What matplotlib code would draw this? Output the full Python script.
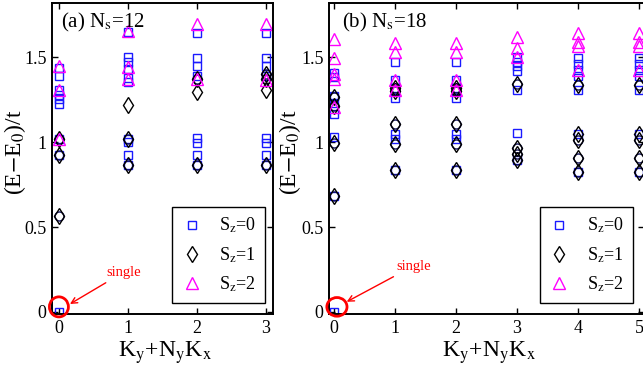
import matplotlib
matplotlib.use("Agg")
import matplotlib.pyplot as plt
from matplotlib.patches import Ellipse

plt.rcParams['font.family'] = ['Liberation Serif', 'DejaVu Serif']
plt.rcParams['mathtext.fontset'] = 'stix'

# ---- data: energies (E-E0)/t for each momentum index k ----
# panel (a), Ns=12, k = 0..3
sz0_a = [[0.0, 0.924, 1.02, 1.225, 1.253, 1.28, 1.305, 1.39, 1.44],
         [0.865, 0.924, 1.0, 1.02, 1.355, 1.38, 1.43, 1.47, 1.50, 1.65],
         [0.865, 0.924, 0.996, 1.022, 1.388, 1.447, 1.498, 1.643],
         [0.865, 0.924, 0.996, 1.022, 1.39, 1.447, 1.498, 1.643]]
sz1_a = [[0.567, 0.924, 1.02],
         [0.865, 1.016, 1.222],
         [0.865, 1.296, 1.37],
         [0.865, 1.31, 1.375, 1.40]]
sz2_a = [[1.02, 1.31, 1.449],
         [1.37, 1.443, 1.653],
         [1.371, 1.694],
         [1.365, 1.694]]
circ_a = [[0.567, 0.924, 1.02],
          [0.865, 1.016],
          [0.865, 1.37],
          [0.865, 1.375, 1.40]]

# panel (b), Ns=18, k = 0..5
sz0_b = [[0.0, 0.682, 1.031, 1.169, 1.228, 1.27, 1.385, 1.41],
         [0.839, 1.02, 1.047, 1.263, 1.322, 1.365, 1.473],
         [0.839, 1.02, 1.047, 1.263, 1.322, 1.365, 1.473],
         [0.898, 1.055, 1.306, 1.42, 1.447, 1.473, 1.50],
         [0.825, 1.051, 1.306, 1.388, 1.424, 1.463, 1.498],
         [0.825, 1.051, 1.306, 1.388, 1.424, 1.463, 1.498]]
sz1_b = [[0.682, 0.996, 1.212, 1.267],
         [0.839, 0.988, 1.106, 1.30, 1.322],
         [0.839, 0.988, 1.106, 1.30, 1.322],
         [0.898, 0.929, 0.963, 1.345],
         [0.825, 0.904, 1.012, 1.051, 1.335],
         [0.825, 0.904, 1.012, 1.051, 1.335]]
sz2_b = [[1.21, 1.37, 1.40, 1.498, 1.61],
         [1.306, 1.369, 1.531, 1.584],
         [1.306, 1.369, 1.531, 1.584],
         [1.502, 1.557, 1.62],
         [1.424, 1.565, 1.59, 1.643],
         [1.424, 1.565, 1.59, 1.643]]
circ_b = [[0.682, 0.996, 1.212, 1.267],
          [0.839, 0.988, 1.106, 1.30, 1.322],
          [0.839, 0.988, 1.106, 1.30, 1.322],
          [0.898, 0.929, 0.963, 1.345],
          [0.825, 0.904, 1.012, 1.335],
          [0.825, 0.904, 1.012, 1.335]]

legend_labels = [r'S$_\mathrm{z}$=0', r'S$_\mathrm{z}$=1', r'S$_\mathrm{z}$=2']
yticks = [0, 0.5, 1, 1.5]
yticklabels = ['0', '0.5', '1', '1.5']

BLUE, MAG, NAVY = "#1a1aff", "#ff00ff", "#10105a"


def flat(groups):
    xs, ys = [], []
    for k, vals in enumerate(groups):
        xs += [k] * len(vals)
        ys += vals
    return xs, ys


fig = plt.figure(figsize=(6.43, 3.77), dpi=100)
ax_a = fig.add_axes([52/643, 63/377, 221/643, 311/377])
ax_b = fig.add_axes([329/643, 63/377, 315/643, 311/377])


def panel(ax, sz0, sz1, sz2, circ, nk, tag, lab_x, single_xy, single_txt, ell):
    x, y = flat(sz0)
    h0, = ax.plot(x, y, 's', ms=6, mfc='none', mec=BLUE, mew=1.0, label=legend_labels[0])
    x, y = flat(circ)
    ax.plot(x, y, 'o', ms=6.5, mfc='none', mec=NAVY, mew=1.0)
    x, y = flat(sz1)
    h1, = ax.plot(x, y, 'd', ms=8.5, mfc='none', mec='k', mew=1.0, label=legend_labels[1])
    x, y = flat(sz2)
    h2, = ax.plot(x, y, '^', ms=8, mfc='none', mec=MAG, mew=1.0, label=legend_labels[2])

    ax.set_xlim(-0.1 if nk == 4 else -0.08, nk - 1 + 0.1 if nk == 4 else 5.08)
    ax.set_ylim(-0.012, 1.82)
    ax.set_xticks(range(nk))
    ax.set_yticks(yticks)
    ax.set_yticklabels(yticklabels)
    ax.tick_params(direction='in', top=True, right=True, length=4, width=1,
                   labelsize=13, pad=4)
    for sp in ax.spines.values():
        sp.set_linewidth(1.4)

    ax.set_xlabel(r'K$_\mathrm{y}$+N$_\mathrm{y}$K$_\mathrm{x}$', fontsize=17)
    ax.xaxis.set_label_coords(0.51, -0.08)
    ax.set_ylabel(r'(E$-$E$_0$)/t', fontsize=17)
    ax.yaxis.set_label_coords(lab_x, 0.52)

    ax.text(0.04, 0.975, tag, transform=ax.transAxes, ha='left', va='top', fontsize=15)

    leg = ax.legend(handles=[h0, h1, h2], loc='lower right',
                    bbox_to_anchor=(0.964, 0.035), fontsize=13, frameon=True,
                    fancybox=False, edgecolor='k', framealpha=1,
                    handlelength=1.2, handletextpad=0.9, labelspacing=0.55,
                    borderpad=0.5, borderaxespad=0)
    leg.get_frame().set_linewidth(1.0)

    ax.add_patch(Ellipse(ell[:2], ell[2], ell[3], fill=False, ec='red', lw=2,
                         zorder=5, clip_on=False))
    ax.annotate('single', xy=single_xy, xytext=single_txt, color='red', fontsize=10.5,
                ha='center', va='center', annotation_clip=False,
                arrowprops=dict(arrowstyle='->', color='red', lw=1.0,
                                shrinkA=2, shrinkB=0))


panel(ax_a, sz0_a, sz1_a, sz2_a, circ_a, 4, r'(a) N$_\mathrm{s}$=12', -0.11,
      (0.16, 0.047), (0.94, 0.235), (0.0, 0.03, 0.275, 0.118))
panel(ax_b, sz0_b, sz1_b, sz2_b, circ_b, 6, r'(b) N$_\mathrm{s}$=18', -0.083,
      (0.21, 0.06), (1.3, 0.27), (0.05, 0.03, 0.33, 0.11))

fig.savefig("out.png", dpi=100)
